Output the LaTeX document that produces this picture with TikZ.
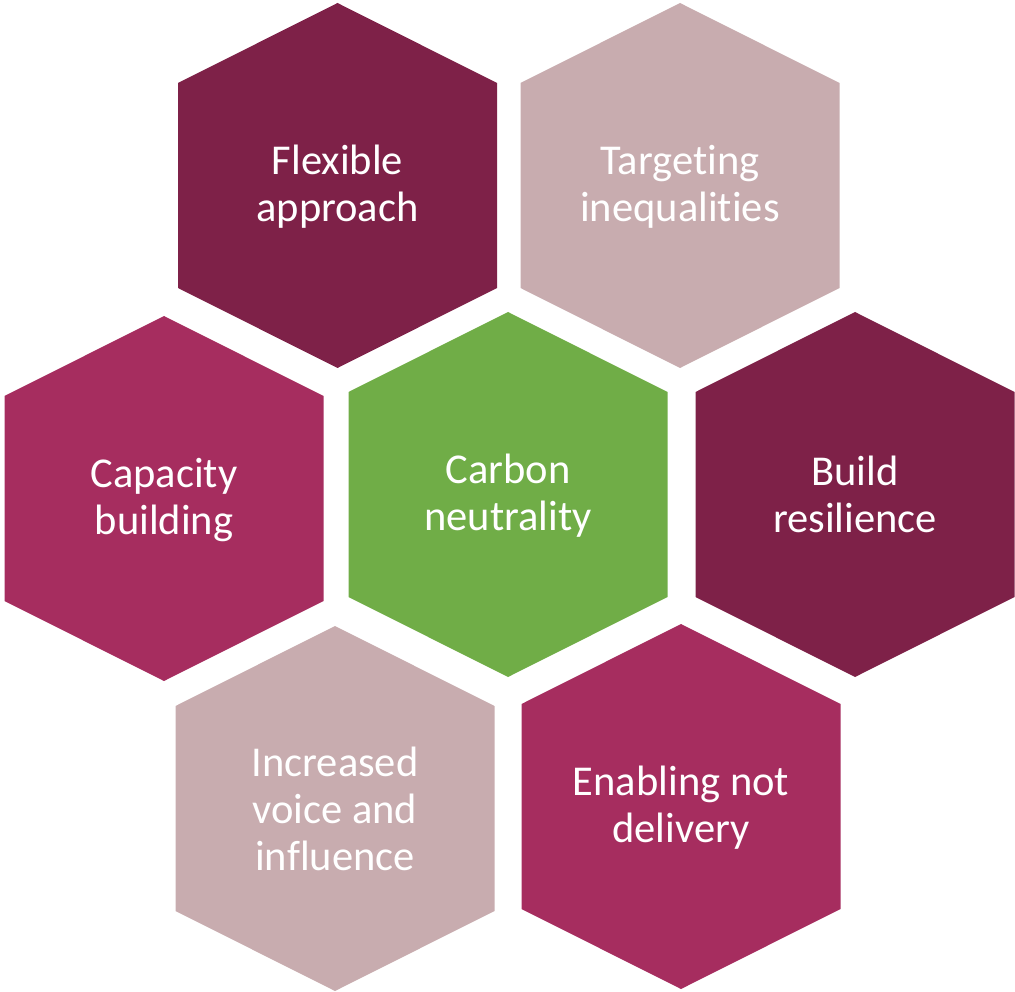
\documentclass[tikz,border=0pt]{standalone}
\usepackage{fontspec}
\setmainfont{Carlito}[Ligatures=NoCommon]
\usepackage{tikz}
\definecolor{granate}{HTML}{7E2148}
\definecolor{rosado}{HTML}{C8ACAF}
\definecolor{magenta}{HTML}{A62D5F}
\definecolor{verde}{HTML}{70AD47}

\begin{document}
\begin{tikzpicture}[
        x=1pt, y=-1pt,
        texto/.style={align=center, text=white, inner sep=0pt, font=\fontsize{42.5}{47}\selectfont}
    ]
        \useasboundingbox (0,0) rectangle (1015,992);
        % hexagonos
        \foreach \cx/\cy/\col in {337.5/185.5/granate, 680/185.5/rosado,
                                  164/498.5/magenta, 508/494.5/verde, 855/494.5/granate,
                                  335/808.5/rosado, 681/806.5/magenta}
            \fill[\col] (\cx,\cy-182.5) -- ++(159.5,80) -- ++(0,205) -- ++(-159.5,80)
                -- ++(-159.5,-80) -- ++(0,-205) -- cycle;
        % textos
        \node (flex) [texto] at (337.5,187) {Flexible\\approach};
        \node (targ) [texto] at (680,187)   {Targeting\\inequalities};
        \node (capa) [texto] at (164,500)   {Capacity\\building};
        \node (carb) [texto] at (508,496)   {Carbon\\neutrality};
        \node (resi) [texto] at (855,494.5) {Build\\resilience};
        \node (voz)  [texto] at (335,809)   {Increased\\voice and\\influence};
        \node (enab) [texto] at (681,808)   {Enabling not\\delivery};
    \end{tikzpicture}
\end{document}
